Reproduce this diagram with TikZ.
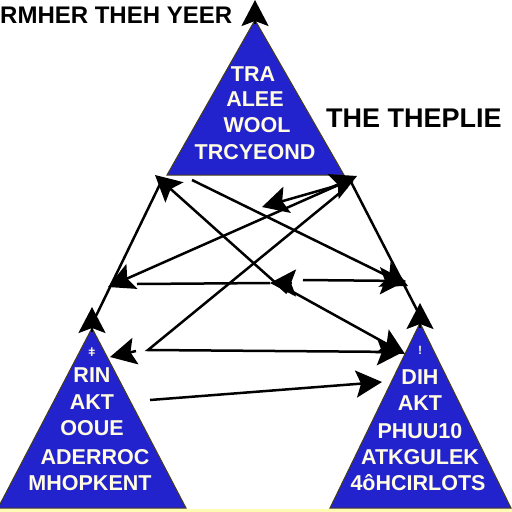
\documentclass[tikz,border=0pt]{standalone}
\usepackage{fontspec}
\setmainfont{Liberation Sans}
\usetikzlibrary{arrows.meta}
\definecolor{triblue}{RGB}{35,35,205}
\definecolor{txtyel}{RGB}{255,252,225}
\definecolor{edgecol}{RGB}{70,60,20}
\begin{document}
\begin{tikzpicture}[x=1pt,y=-1pt,
  tri/.style={fill=triblue,draw=edgecol,line width=1pt,line join=miter},
  conn/.style={line width=2.5pt},
  head/.style={-{Stealth[length=26pt,width=27pt,inset=5pt]}},
  tritext/.style={text=txtyel,font=\bfseries\fontsize{21.5}{21.5}\selectfont,inner sep=0pt},
  titletext/.style={text=black,font=\bfseries\fontsize{24}{24}\selectfont,inner sep=0pt}]
\useasboundingbox (0,0) rectangle (512,512);
\fill[white] (0,0) rectangle (512,512);
% triangles
\coordinate (T) at (255,20); \coordinate (TL) at (167,175); \coordinate (TR) at (344,175);
\coordinate (LA) at (92,328); \coordinate (LL) at (-2,508); \coordinate (LR) at (186,508);
\coordinate (RA) at (420,323); \coordinate (RL) at (330,508); \coordinate (RR) at (511,508);
\draw[tri] (T) -- (TL) -- (TR) -- cycle;
\draw[tri] (LA) -- (LL) -- (LR) -- cycle;
\draw[tri] (RA) -- (RL) -- (RR) -- cycle;
\fill[yellow!30] (0,509) rectangle (512,512);
% apex arrows
\coordinate (ta0) at (255,24); \coordinate (ta1) at (255,0);
\coordinate (la0) at (92,332); \coordinate (la1) at (92,307);
\coordinate (ra0) at (420,328); \coordinate (ra1) at (420,303);
\draw[conn,head] (ta0) -- (ta1);
\draw[conn,head] (la0) -- (la1);
\draw[conn,head] (ra0) -- (ra1);
% connectors
\coordinate (a1) at (95,318); \coordinate (a2) at (162,180);
\draw[conn] (a1) -- (a2);
\coordinate (b1) at (287,293); \coordinate (b2) at (155,175);
\draw[conn,head] (b1) -- (b2);
\coordinate (c1) at (192,180); \coordinate (c2) at (408,286);
\draw[conn,head] (c1) -- (c2);
\coordinate (d1) at (137,284); \coordinate (d2) at (270,283); \coordinate (d3) at (292,283);
\draw[conn] (d1) -- (d2);
\draw[conn,head] (d3) -- (d2);
\coordinate (e1) at (303,280); \coordinate (e2) at (406,281);
\draw[conn,head] (e1) -- (e2);
\coordinate (f1) at (352,179); \coordinate (f2) at (108,287); \coordinate (f3) at (330,188); \coordinate (f4) at (357,176);
\draw[conn,head] (f1) -- (f2);
\draw[conn,head] (f3) -- (f4);
\coordinate (g1) at (353,181); \coordinate (g2) at (262,207);
\draw[conn,head] (g1) -- (g2);
\coordinate (h1) at (350,180); \coordinate (h2) at (418,312);
\draw[conn] (h1) -- (h2);
\coordinate (i1) at (347,187); \coordinate (i2) at (148,350); \coordinate (i3) at (403,352);
\draw[conn,head] (i1) -- (i2) -- (i3);
\coordinate (j1) at (293,292); \coordinate (j2) at (405,354);
\draw[conn,head] (j1) -- (j2);
\coordinate (k1) at (150,400); \coordinate (k2) at (382,382);
\draw[conn,head] (k1) -- (k2);
\coordinate (l1) at (136,351); \coordinate (l2) at (110,357);
\draw[conn,head] (l1) -- (l2);
% titles
\node[titletext,anchor=west] (t1) at (0,15) {RMHER THEH YEER};
\node[titletext,font=\bfseries\fontsize{27}{27}\selectfont] (t2) at (414,118) {THE THEPLIE};
% top triangle text
\node[tritext] (p1) at (253,74) {TRA};
\node[tritext] (p2) at (255,99) {ALEE};
\node[tritext] (p3) at (257,125) {WOOL};
\node[tritext] (p4) at (255,152) {TRCYEOND};
% left triangle text
\node[tritext,font=\bfseries\fontsize{12}{12}\selectfont] (q0) at (92,352) {ǂ};
\node[tritext] (q1) at (92,375) {RIN};
\node[tritext] (q2) at (92,402) {AKT};
\node[tritext] (q3) at (92,428) {OOUE};
\node[tritext] (q4) at (95,457) {ADERROC};
\node[tritext] (q5) at (90,483) {MHOPKENT};
% right triangle text
\node[tritext,font=\bfseries\fontsize{12}{12}\selectfont] (r0) at (420,350) {!};
\node[tritext] (r1) at (420,377) {DIH};
\node[tritext] (r2) at (420,403) {AKT};
\node[tritext] (r3) at (420,431) {PHUU10};
\node[tritext] (r4) at (420,457) {ATKGULEK};
\node[tritext] (r5) at (418,483) {4ôHCIRLOTS};
\end{tikzpicture}
\end{document}
